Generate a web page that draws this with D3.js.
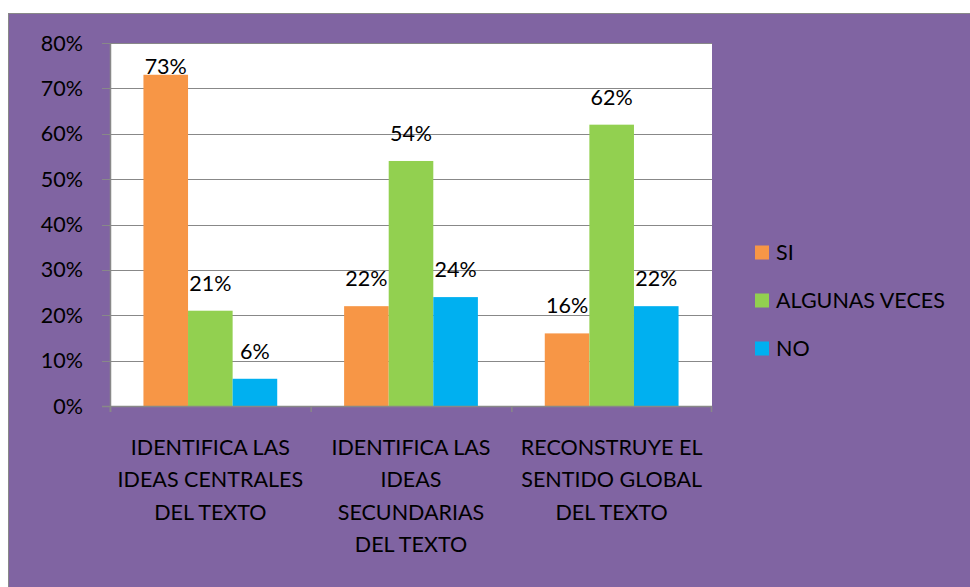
<html>
<head>
<script src="https://d3js.org/d3.v7.min.js"></script>
<style>
  body { margin: 0; background: #ffffff; }
  text { font-family: Lato, "Open Sans", sans-serif; fill: #000; }
</style>
</head>
<body>
<svg id="chart"></svg>
<script>
// datos del grafico
var categories = [
  ["IDENTIFICA LAS", "IDEAS CENTRALES", "DEL TEXTO"],
  ["IDENTIFICA LAS", "IDEAS", "SECUNDARIAS", "DEL TEXTO"],
  ["RECONSTRUYE EL", "SENTIDO GLOBAL", "DEL TEXTO"]
];
var seriesNames = ["SI", "ALGUNAS VECES", "NO"];
var siValues = [0.73, 0.22, 0.16];
var algunasValues = [0.21, 0.54, 0.62];
var noValues = [0.06, 0.24, 0.22];
var yTicks = [0, 0.1, 0.2, 0.3, 0.4, 0.5, 0.6, 0.7, 0.8];
var colors = ["#F79646", "#92D050", "#00B0F0"];

var W = 970, H = 587;
var plot = {left: 110, right: 712, top: 43, bottom: 406};
var fs = 21.5;

var svg = d3.select("#chart").attr("width", W).attr("height", H);

/* fondo morado del area del grafico */
svg.append("rect").attr("x", 8.5).attr("y", 13.5).attr("width", W).attr("height", H)
  .attr("fill", "#8064A2").attr("stroke", "#888888").attr("stroke-width", 1);

/* area de trazado blanca */
svg.append("rect").attr("x", plot.left).attr("y", plot.top)
  .attr("width", plot.right - plot.left).attr("height", plot.bottom - plot.top)
  .attr("fill", "#ffffff");

var catIdx = categories.map((c, i) => i);
var x0 = d3.scaleBand().domain(catIdx).range([plot.left, plot.right]).padding(0);
var bw = x0.bandwidth() / 4.5;  // gap width 150%
var x1 = d3.scaleBand().domain([0, 1, 2]).range([0, 3 * bw]);
var y = d3.scaleLinear().domain([0, 0.8]).range([plot.bottom, plot.top]);

/* lineas de la cuadricula */
svg.selectAll("line.grid").data(yTicks).enter().append("line")
  .attr("class", "grid")
  .attr("x1", plot.left - 8).attr("x2", plot.right)
  .attr("y1", d => Math.round(y(d)) + 0.5).attr("y2", d => Math.round(y(d)) + 0.5)
  .attr("stroke", "#888888").attr("stroke-width", 1);

/* eje y vertical */
svg.append("line").attr("x1", plot.left + 0.5).attr("x2", plot.left + 0.5)
  .attr("y1", plot.top).attr("y2", plot.bottom + 6)
  .attr("stroke", "#888888").attr("stroke-width", 1.5);

/* etiquetas del eje y */
svg.selectAll("text.ytick").data(yTicks).enter().append("text")
  .attr("class", "ytick")
  .attr("x", 83).attr("y", d => y(d))
  .attr("dy", "0.35em").attr("text-anchor", "end")
  .style("font-size", fs + "px")
  .text(d => d3.format(".0%")(d));

/* barras */
var series = [siValues, algunasValues, noValues];
series.forEach(function(vals, s) {
  svg.selectAll("rect.s" + s).data(vals).enter().append("rect")
    .attr("class", "s" + s)
    .attr("x", (d, i) => x0(i) + bw * 0.75 + x1(s))
    .attr("y", d => y(d))
    .attr("width", x1.bandwidth())
    .attr("height", d => plot.bottom - y(d))
    .attr("fill", colors[s]);

  /* etiquetas de valores */
  svg.selectAll("text.l" + s).data(vals).enter().append("text")
    .attr("class", "l" + s)
    .attr("x", (d, i) => x0(i) + bw * 0.75 + x1(s) + x1.bandwidth() / 2)
    .attr("y", function(d) {
      var yy = y(d) - 20;
      if (yy - 16 < plot.top) yy = y(d) - 1;
      return yy;
    })
    .attr("text-anchor", "middle")
    .style("font-size", fs + "px")
    .text(d => d3.format(".0%")(d));
});

/* eje x */
svg.append("line").attr("x1", plot.left - 8).attr("x2", plot.right)
  .attr("y1", plot.bottom + 0.5).attr("y2", plot.bottom + 0.5)
  .attr("stroke", "#888888").attr("stroke-width", 1.5);
svg.selectAll("line.xtick").data(catIdx.concat([categories.length])).enter().append("line")
  .attr("class", "xtick")
  .attr("x1", d => d < categories.length ? x0(d) + 0.5 : plot.right - 0.5)
  .attr("x2", d => d < categories.length ? x0(d) + 0.5 : plot.right - 0.5)
  .attr("y1", plot.bottom).attr("y2", plot.bottom + 6)
  .attr("stroke", "#888888").attr("stroke-width", 1.5);

/* etiquetas de categorias */
categories.forEach(function(lines, i) {
  var t = svg.append("text").attr("text-anchor", "middle").style("font-size", fs + "px");
  lines.forEach(function(ln, j) {
    t.append("tspan").attr("x", x0(i) + x0.bandwidth() / 2)
      .attr("y", 447 + j * 32.5).attr("dy", "0.35em").text(ln);
  });
});

/* leyenda */
var leg = svg.selectAll("g.leg").data(seriesNames).enter().append("g")
  .attr("class", "leg")
  .attr("transform", (d, i) => "translate(755," + (252.5 + i * 48) + ")");
leg.append("rect").attr("x", 0).attr("y", -7).attr("width", 14).attr("height", 14)
  .attr("fill", (d, i) => colors[i]);
leg.append("text").attr("x", 21).attr("y", 0).attr("dy", "0.35em")
  .style("font-size", fs + "px").text(d => d);
</script>
</body>
</html>
